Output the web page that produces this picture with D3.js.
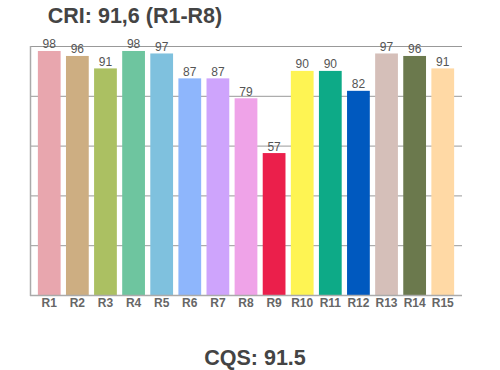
<!DOCTYPE html>
<html>
<head>
<meta charset="utf-8">
<script src="https://cdn.jsdelivr.net/npm/d3@7"></script>
<style>
  body { margin: 0; background: #fff; }
  svg { display: block; font-family: "Liberation Sans", Arial, sans-serif; }
</style>
</head>
<body>
<svg id="chart" width="500" height="370"></svg>
<script>
// chart values
const categories = ["R1","R2","R3","R4","R5","R6","R7","R8","R9","R10","R11","R12","R13","R14","R15"];
const values = [98, 96, 91, 98, 97, 87, 87, 79, 57, 90, 90, 82, 97, 96, 91];
const colors = ["#E8A6AE","#CDAE82","#ABC062","#6EC59F","#7FC1DE","#8EB6FC","#CEA4FC","#EFA3E8",
                "#EB1F4B","#FEF453","#0DAA87","#0059BF","#D5BFB9","#6B794D","#FFD9A5"];
const yTicks = [0, 20, 40, 60, 80, 100];
const title = "CRI: 91,6 (R1-R8)";
const subtitle = "CQS: 91.5";

const svg = d3.select("#chart");

// plot area
const plotLeft = 30, plotRight = 462, plotTop = 46, plotBottom = 295;

const x = d3.scaleBand()
    .domain(categories)
    .range([plotLeft, plotRight])
    .paddingInner(0.19)
    .paddingOuter(0.28);

const y = d3.scaleLinear()
    .domain([0, 100])
    .range([plotBottom, plotTop]);

// gridlines
svg.append("g")
    .selectAll("line")
    .data(yTicks)
    .enter()
    .append("line")
    .attr("x1", plotLeft)
    .attr("x2", plotRight)
    .attr("y1", d => y(d) + 0.5)
    .attr("y2", d => y(d) + 0.5)
    .attr("stroke", "#999")
    .attr("stroke-width", 1);

// left axis line
svg.append("line")
    .attr("x1", plotLeft + 0.5).attr("x2", plotLeft + 0.5)
    .attr("y1", plotTop).attr("y2", plotBottom + 1)
    .attr("stroke", "#aaa")
    .attr("stroke-width", 1.5);

// bars
svg.append("g")
    .selectAll("rect")
    .data(values)
    .enter()
    .append("rect")
    .attr("x", (d, i) => x(categories[i]))
    .attr("y", d => y(d))
    .attr("width", x.bandwidth())
    .attr("height", d => y(0) - y(d))
    .attr("fill", (d, i) => colors[i]);

// bottom axis line, drawn over bars
svg.append("line")
    .attr("x1", plotLeft).attr("x2", plotRight)
    .attr("y1", plotBottom + 0.5).attr("y2", plotBottom + 0.5)
    .attr("stroke", "#aaa")
    .attr("stroke-width", 1.5);

// value labels
svg.append("g")
    .selectAll("text")
    .data(values)
    .enter()
    .append("text")
    .attr("x", (d, i) => x(categories[i]) + x.bandwidth() / 2)
    .attr("y", d => y(d) - 2.5)
    .attr("text-anchor", "middle")
    .attr("font-size", 12)
    .attr("fill", "#555")
    .text(d => d);

// category labels
svg.append("g")
    .selectAll("text")
    .data(categories)
    .enter()
    .append("text")
    .attr("x", d => x(d) + x.bandwidth() / 2)
    .attr("y", 307)
    .attr("text-anchor", "middle")
    .attr("font-size", 12)
    .attr("font-weight", "bold")
    .attr("fill", "#666")
    .text(d => d);

// titles
svg.append("text")
    .attr("x", 135)
    .attr("y", 23)
    .attr("text-anchor", "middle")
    .attr("font-size", 21.5)
    .attr("font-weight", "bold")
    .attr("fill", "#444")
    .text(title);

svg.append("text")
    .attr("x", 255)
    .attr("y", 365)
    .attr("text-anchor", "middle")
    .attr("font-size", 21.5)
    .attr("font-weight", "bold")
    .attr("fill", "#444")
    .text(subtitle);
</script>
</body>
</html>
